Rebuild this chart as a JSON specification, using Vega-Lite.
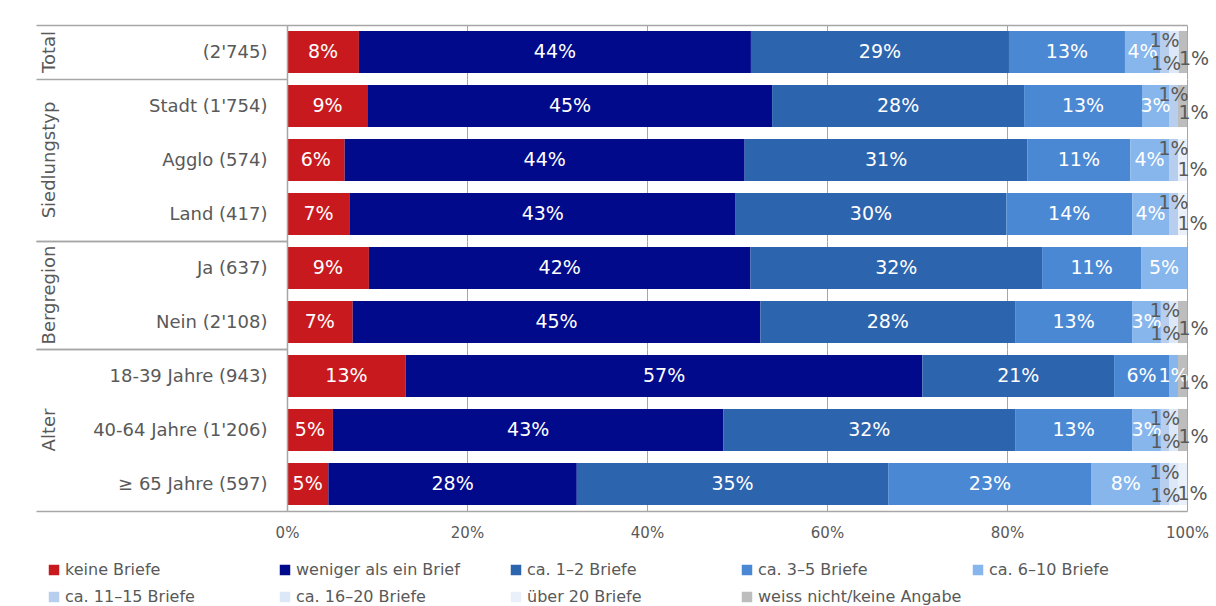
{
  "$schema": "https://vega.github.io/schema/vega-lite/v6.json",
  "background": "white",
  "padding": {"left": 35, "top": 16, "right": 4, "bottom": 2},
  "bounds": "flush",
  "datasets": {
    "cats": [
      {"c": "keine Briefe", "k": 1},
      {"c": "weniger als ein Brief", "k": 2},
      {"c": "ca. 1–2 Briefe", "k": 3},
      {"c": "ca. 3–5  Briefe", "k": 4},
      {"c": "ca. 6–10  Briefe", "k": 5},
      {"c": "ca. 11–15  Briefe", "k": 6},
      {"c": "ca. 16–20  Briefe", "k": 7},
      {"c": "über 20 Briefe", "k": 8},
      {"c": "weiss nicht/keine Angabe", "k": 9}
    ],
    "rows": [
      {"g": "Total", "r": "(2'745)", "c": "keine Briefe", "v": 0.080},
      {"g": "Total", "r": "(2'745)", "c": "weniger als ein Brief", "v": 0.436},
      {"g": "Total", "r": "(2'745)", "c": "ca. 1–2 Briefe", "v": 0.287},
      {"g": "Total", "r": "(2'745)", "c": "ca. 3–5  Briefe", "v": 0.129},
      {"g": "Total", "r": "(2'745)", "c": "ca. 6–10  Briefe", "v": 0.039},
      {"g": "Total", "r": "(2'745)", "c": "ca. 11–15  Briefe", "v": 0.010},
      {"g": "Total", "r": "(2'745)", "c": "ca. 16–20  Briefe", "v": 0.011},
      {"g": "Total", "r": "(2'745)", "c": "weiss nicht/keine Angabe", "v": 0.009},
      {"g": "Siedlungstyp", "r": "Stadt (1'754)", "c": "keine Briefe", "v": 0.090},
      {"g": "Siedlungstyp", "r": "Stadt (1'754)", "c": "weniger als ein Brief", "v": 0.449},
      {"g": "Siedlungstyp", "r": "Stadt (1'754)", "c": "ca. 1–2 Briefe", "v": 0.280},
      {"g": "Siedlungstyp", "r": "Stadt (1'754)", "c": "ca. 3–5  Briefe", "v": 0.131},
      {"g": "Siedlungstyp", "r": "Stadt (1'754)", "c": "ca. 6–10  Briefe", "v": 0.030},
      {"g": "Siedlungstyp", "r": "Stadt (1'754)", "c": "ca. 11–15  Briefe", "v": 0.010},
      {"g": "Siedlungstyp", "r": "Stadt (1'754)", "c": "weiss nicht/keine Angabe", "v": 0.010},
      {"g": "Siedlungstyp", "r": "Agglo (574)", "c": "keine Briefe", "v": 0.064},
      {"g": "Siedlungstyp", "r": "Agglo (574)", "c": "weniger als ein Brief", "v": 0.444},
      {"g": "Siedlungstyp", "r": "Agglo (574)", "c": "ca. 1–2 Briefe", "v": 0.314},
      {"g": "Siedlungstyp", "r": "Agglo (574)", "c": "ca. 3–5  Briefe", "v": 0.114},
      {"g": "Siedlungstyp", "r": "Agglo (574)", "c": "ca. 6–10  Briefe", "v": 0.043},
      {"g": "Siedlungstyp", "r": "Agglo (574)", "c": "ca. 11–15  Briefe", "v": 0.010},
      {"g": "Siedlungstyp", "r": "Agglo (574)", "c": "über 20 Briefe", "v": 0.010},
      {"g": "Siedlungstyp", "r": "Land (417)", "c": "keine Briefe", "v": 0.070},
      {"g": "Siedlungstyp", "r": "Land (417)", "c": "weniger als ein Brief", "v": 0.429},
      {"g": "Siedlungstyp", "r": "Land (417)", "c": "ca. 1–2 Briefe", "v": 0.301},
      {"g": "Siedlungstyp", "r": "Land (417)", "c": "ca. 3–5  Briefe", "v": 0.140},
      {"g": "Siedlungstyp", "r": "Land (417)", "c": "ca. 6–10  Briefe", "v": 0.041},
      {"g": "Siedlungstyp", "r": "Land (417)", "c": "ca. 11–15  Briefe", "v": 0.010},
      {"g": "Siedlungstyp", "r": "Land (417)", "c": "über 20 Briefe", "v": 0.010},
      {"g": "Bergregion", "r": "Ja (637)", "c": "keine Briefe", "v": 0.091},
      {"g": "Bergregion", "r": "Ja (637)", "c": "weniger als ein Brief", "v": 0.424},
      {"g": "Bergregion", "r": "Ja (637)", "c": "ca. 1–2 Briefe", "v": 0.324},
      {"g": "Bergregion", "r": "Ja (637)", "c": "ca. 3–5  Briefe", "v": 0.110},
      {"g": "Bergregion", "r": "Ja (637)", "c": "ca. 6–10  Briefe", "v": 0.051},
      {"g": "Bergregion", "r": "Nein (2'108)", "c": "keine Briefe", "v": 0.073},
      {"g": "Bergregion", "r": "Nein (2'108)", "c": "weniger als ein Brief", "v": 0.453},
      {"g": "Bergregion", "r": "Nein (2'108)", "c": "ca. 1–2 Briefe", "v": 0.283},
      {"g": "Bergregion", "r": "Nein (2'108)", "c": "ca. 3–5  Briefe", "v": 0.130},
      {"g": "Bergregion", "r": "Nein (2'108)", "c": "ca. 6–10  Briefe", "v": 0.032},
      {"g": "Bergregion", "r": "Nein (2'108)", "c": "ca. 11–15  Briefe", "v": 0.009},
      {"g": "Bergregion", "r": "Nein (2'108)", "c": "ca. 16–20  Briefe", "v": 0.010},
      {"g": "Bergregion", "r": "Nein (2'108)", "c": "weiss nicht/keine Angabe", "v": 0.010},
      {"g": "Alter", "r": "18-39 Jahre (943)", "c": "keine Briefe", "v": 0.132},
      {"g": "Alter", "r": "18-39 Jahre (943)", "c": "weniger als ein Brief", "v": 0.574},
      {"g": "Alter", "r": "18-39 Jahre (943)", "c": "ca. 1–2 Briefe", "v": 0.213},
      {"g": "Alter", "r": "18-39 Jahre (943)", "c": "ca. 3–5  Briefe", "v": 0.061},
      {"g": "Alter", "r": "18-39 Jahre (943)", "c": "ca. 6–10  Briefe", "v": 0.010},
      {"g": "Alter", "r": "18-39 Jahre (943)", "c": "weiss nicht/keine Angabe", "v": 0.010},
      {"g": "Alter", "r": "40-64 Jahre (1'206)", "c": "keine Briefe", "v": 0.051},
      {"g": "Alter", "r": "40-64 Jahre (1'206)", "c": "weniger als ein Brief", "v": 0.434},
      {"g": "Alter", "r": "40-64 Jahre (1'206)", "c": "ca. 1–2 Briefe", "v": 0.324},
      {"g": "Alter", "r": "40-64 Jahre (1'206)", "c": "ca. 3–5  Briefe", "v": 0.130},
      {"g": "Alter", "r": "40-64 Jahre (1'206)", "c": "ca. 6–10  Briefe", "v": 0.032},
      {"g": "Alter", "r": "40-64 Jahre (1'206)", "c": "ca. 11–15  Briefe", "v": 0.009},
      {"g": "Alter", "r": "40-64 Jahre (1'206)", "c": "ca. 16–20  Briefe", "v": 0.010},
      {"g": "Alter", "r": "40-64 Jahre (1'206)", "c": "weiss nicht/keine Angabe", "v": 0.010},
      {"g": "Alter", "r": "≥ 65 Jahre (597)", "c": "keine Briefe", "v": 0.046},
      {"g": "Alter", "r": "≥ 65 Jahre (597)", "c": "weniger als ein Brief", "v": 0.276},
      {"g": "Alter", "r": "≥ 65 Jahre (597)", "c": "ca. 1–2 Briefe", "v": 0.346},
      {"g": "Alter", "r": "≥ 65 Jahre (597)", "c": "ca. 3–5  Briefe", "v": 0.226},
      {"g": "Alter", "r": "≥ 65 Jahre (597)", "c": "ca. 6–10  Briefe", "v": 0.076},
      {"g": "Alter", "r": "≥ 65 Jahre (597)", "c": "ca. 11–15  Briefe", "v": 0.010},
      {"g": "Alter", "r": "≥ 65 Jahre (597)", "c": "ca. 16–20  Briefe", "v": 0.010},
      {"g": "Alter", "r": "≥ 65 Jahre (597)", "c": "über 20 Briefe", "v": 0.010}
    ]
  },
  "data": {"name": "rows"},
  "transform": [
    {"lookup": "c", "from": {"data": {"name": "cats"}, "key": "c", "fields": ["k"]}}
  ],
  "facet": {
    "row": {
      "field": "g", "type": "nominal",
      "sort": ["Total", "Siedlungstyp", "Bergregion", "Alter"],
      "title": null,
      "header": {"labelAngle": -90, "labelOrient": "left", "labelFont": "DejaVu Sans", "labelFontSize": 18, "labelColor": "#595959", "labelPadding": 219}
    }
  },
  "spacing": 0,
  "resolve": {"scale": {"y": "independent"}},
  "spec": {
    "width": 900,
    "height": {"step": 54},
    "encoding": {
      "y": {
        "field": "r", "type": "nominal", "sort": null, "title": null,
        "scale": {"paddingInner": 0, "paddingOuter": 0},
        "axis": {
          "zindex": 1,
          "domainColor": "#A6A6A6", "domainWidth": 1.5,
          "ticks": true, "tickBand": "extent", "tickSize": 251, "tickColor": "#A6A6A6", "tickWidth": 1.5,
          "tickOpacity": {"condition": {"test": "datum.index === -1 || datum.index === 1", "value": 1}, "value": 0},
          "labelPadding": -231, "labelFont": "DejaVu Sans", "labelFontSize": 18, "labelColor": "#595959", "labelLimit": 300,
          "grid": true, "gridColor": "#A6A6A6", "gridWidth": 1.5,
          "gridOpacity": {"condition": {"test": "datum.index === -1 && datum.extra != null && datum.extra.value === \"(2'745)\"", "value": 1}, "value": 0}
        }
      },
      "x": {
        "field": "v", "type": "quantitative", "stack": "normalize", "title": null,
        "scale": {"domain": [0, 1]},
        "axis": {
          "format": "%", "values": [0, 0.2, 0.4, 0.6, 0.8, 1], "labelFlush": false,
          "grid": true, "gridColor": "#A6A6A6", "gridWidth": 1,
          "ticks": false, "domainColor": "#A6A6A6", "domainWidth": 1.5,
          "labelFont": "DejaVu Sans", "labelFontSize": 15, "labelColor": "#595959", "labelPadding": 14
        }
      },
      "order": {"field": "k", "type": "quantitative", "sort": "ascending"}
    },
    "layer": [
      {
        "mark": {"type": "bar", "height": {"band": 0.78}},
        "encoding": {
          "color": {
            "field": "c", "type": "nominal",
            "scale": {
              "domain": ["keine Briefe", "weniger als ein Brief", "ca. 1–2 Briefe", "ca. 3–5  Briefe", "ca. 6–10  Briefe", "ca. 11–15  Briefe", "ca. 16–20  Briefe", "über 20 Briefe", "weiss nicht/keine Angabe"],
              "range": ["#C81A1E", "#020A8C", "#2D64AE", "#4B88D3", "#86B6EC", "#B7CEEE", "#DCE7F7", "#E9F0FA", "#BDBDBD"]
            },
            "legend": {
              "orient": "none", "legendX": -241, "legendY": 537, "direction": "horizontal", "columns": 5,
              "title": null, "symbolType": "square", "symbolSize": 110, "symbolStrokeWidth": 0,
              "labelFont": "DejaVu Sans", "labelFontSize": 16, "labelColor": "#595959", "labelOffset": 3,
              "gridAlign": "all", "columnPadding": 8, "rowPadding": 11, "labelLimit": 260
            }
          }
        }
      },
      {
        "mark": {"type": "text", "font": "DejaVu Sans", "fontSize": 19, "fill": "white", "align": "center", "baseline": "middle"},
        "encoding": {
          "x": {"field": "v", "type": "quantitative", "stack": "normalize", "bandPosition": 0.5},
          "detail": {"field": "c"},
          "text": {"field": "v", "type": "quantitative", "format": ".0%"},
          "opacity": {"condition": {"test": "datum.k <= 5", "value": 1}, "value": 0}
        }
      },
      {
        "mark": {"type": "text", "font": "DejaVu Sans", "fontSize": 19, "fill": "#595959", "align": "center", "baseline": "middle", "dy": -11},
        "encoding": {
          "x": {"field": "v", "type": "quantitative", "stack": "normalize", "bandPosition": 0.5},
          "detail": {"field": "c"},
          "text": {"field": "v", "type": "quantitative", "format": ".0%"},
          "opacity": {"condition": {"test": "datum.k === 6", "value": 1}, "value": 0}
        }
      },
      {
        "mark": {"type": "text", "font": "DejaVu Sans", "fontSize": 19, "fill": "#595959", "align": "center", "baseline": "middle", "dx": -8, "dy": 12},
        "encoding": {
          "x": {"field": "v", "type": "quantitative", "stack": "normalize", "bandPosition": 0.5},
          "detail": {"field": "c"},
          "text": {"field": "v", "type": "quantitative", "format": ".0%"},
          "opacity": {"condition": {"test": "datum.k === 7", "value": 1}, "value": 0}
        }
      },
      {
        "mark": {"type": "text", "font": "DejaVu Sans", "fontSize": 19, "fill": "#595959", "align": "center", "baseline": "middle", "dx": 10, "dy": 10},
        "encoding": {
          "x": {"field": "v", "type": "quantitative", "stack": "normalize", "bandPosition": 0.5},
          "detail": {"field": "c"},
          "text": {"field": "v", "type": "quantitative", "format": ".0%"},
          "opacity": {"condition": {"test": "datum.k === 8", "value": 1}, "value": 0}
        }
      },
      {
        "mark": {"type": "text", "font": "DejaVu Sans", "fontSize": 19, "fill": "#595959", "align": "center", "baseline": "middle", "dx": 11, "dy": 7},
        "encoding": {
          "x": {"field": "v", "type": "quantitative", "stack": "normalize", "bandPosition": 0.5},
          "detail": {"field": "c"},
          "text": {"field": "v", "type": "quantitative", "format": ".0%"},
          "opacity": {"condition": {"test": "datum.k === 9", "value": 1}, "value": 0}
        }
      }
    ]
  },
  "config": {"view": {"stroke": null}}
}
